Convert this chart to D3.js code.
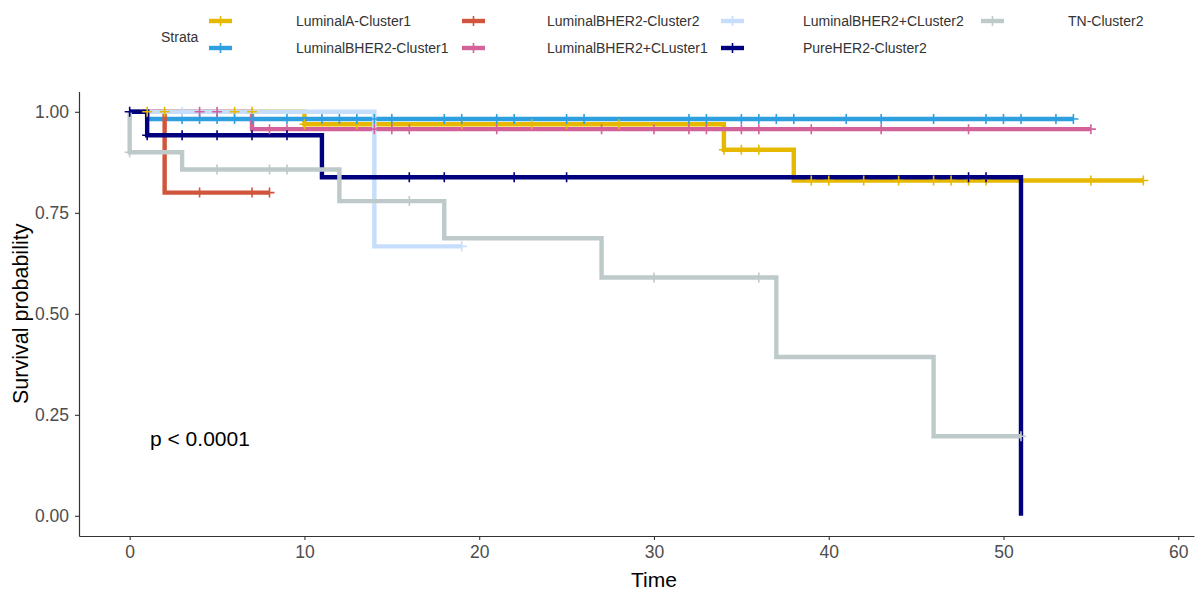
<!DOCTYPE html>
<html>
<head>
<meta charset="utf-8">
<script src="https://cdn.jsdelivr.net/npm/d3@7"></script>
<style>
  body { margin: 0; background: #fff; }
  svg { font-family: "Liberation Sans", Arial, sans-serif; }
</style>
</head>
<body>
<svg id="km" width="1199" height="592"></svg>
<script>
// strata in legend / drawing order
const strata = ['LuminalA-Cluster1', 'LuminalBHER2-Cluster1', 'LuminalBHER2-Cluster2',
  'LuminalBHER2+CLuster1', 'LuminalBHER2+CLuster2', 'PureHER2-Cluster2', 'TN-Cluster2'];
const colors = ['#E7B800', '#2E9FDF', '#D0553C', '#D3619A', '#C6DDFB', '#00007F', '#BECACA'];

// event times and survival after each event
const stepTimes = [
  [10, 34, 38],
  [1],
  [2],
  [7],
  [14],
  [1, 11, 51],
  [0, 3, 12, 18, 27, 37, 46]
];
const stepSurv = [
  [0.969, 0.906, 0.83],
  [0.982],
  [0.8],
  [0.957],
  [0.667],
  [0.942, 0.838, 0],
  [0.9, 0.857, 0.779, 0.687, 0.59, 0.393, 0.197]
];
const endTimes = [58, 54, 8, 55, 19, 51, 51];
const censorTimes = [
  [1, 2, 6, 7, 10, 13, 19, 23, 25, 28, 33, 34, 35, 36, 39, 40, 42, 44, 46, 47, 48, 49, 55, 58],
  [3, 4, 5, 6, 7, 9, 11, 12, 13, 14, 15, 18, 19, 21, 22, 25, 26, 32, 33, 35, 36, 37, 38, 41, 43, 46, 49, 50, 51, 53, 54],
  [4, 7, 8],
  [4, 5, 8, 9, 14, 15, 16, 21, 27, 30, 32, 33, 35, 36, 39, 43, 48, 55],
  [3, 19],
  [0, 1, 3, 5, 7, 9, 16, 18, 22, 25, 48, 49],
  [0, 5, 8, 9, 16, 30, 36, 51]
];

const xTicks = [0, 10, 20, 30, 40, 50, 60];
const yTicks = [0, 0.25, 0.5, 0.75, 1];
const pLabel = 'p < 0.0001';

let svg = d3.select('#km');

let panel = { left: 79, right: 1194, top: 91.6, bottom: 536 };

let x = d3.scaleLinear().domain([-2.9, 60.9]).range([panel.left, panel.right]);
let y = d3.scaleLinear().domain([-0.05, 1.05]).range([panel.bottom, panel.top]);

// survival value at time t (right-continuous)
function survAt(i, t) {
  let s = 1;
  stepTimes[i].forEach((st, k) => { if (st <= t) s = stepSurv[i][k]; });
  return s;
}

// build the step path for one stratum
function stepPoints(i) {
  let pts = [[0, 1]];
  let prev = 1;
  stepTimes[i].forEach((t, k) => {
    pts.push([t, prev]);
    pts.push([t, stepSurv[i][k]]);
    prev = stepSurv[i][k];
  });
  pts.push([endTimes[i], prev]);
  return pts;
}

let line = d3.line().x(d => x(d[0])).y(d => y(d[1]));

// curves
let curves = svg.append('g');
strata.forEach((name, i) => {
  curves.append('path')
    .attr('d', line(stepPoints(i)))
    .attr('fill', 'none')
    .attr('stroke', colors[i])
    .attr('stroke-width', 4.4)
    .attr('stroke-linejoin', 'miter');
});

// censor marks
let marks = svg.append('g');
strata.forEach((name, i) => {
  censorTimes[i].forEach(t => {
    let cx = x(t), cy = y(survAt(i, t));
    marks.append('path')
      .attr('d', `M${cx - 5},${cy}H${cx + 5}M${cx},${cy - 5}V${cy + 5}`)
      .attr('stroke', colors[i])
      .attr('stroke-width', 1.6)
      .attr('fill', 'none');
  });
});

// axes
let xAxis = svg.append('g')
  .attr('transform', `translate(0,${panel.bottom})`)
  .call(d3.axisBottom(x).tickValues(xTicks).tickSize(4).tickSizeOuter(0).tickPadding(6));
let yAxis = svg.append('g')
  .attr('transform', `translate(${panel.left},0)`)
  .call(d3.axisLeft(y).tickValues(yTicks).tickSize(4).tickSizeOuter(0).tickPadding(6)
    .tickFormat(d3.format('.2f')));

[xAxis, yAxis].forEach(a => {
  a.select('.domain').attr('stroke', '#333').attr('stroke-width', 1.2);
  a.selectAll('.tick line').attr('stroke', '#333').attr('stroke-width', 1.1);
  a.selectAll('.tick text')
    .attr('fill', '#4d4d4d')
    .style('font-size', '17.5px')
    .style('font-family', '"Liberation Sans", Arial, sans-serif');
});

// axis titles
svg.append('text')
  .attr('x', x(30))
  .attr('y', 587)
  .attr('text-anchor', 'middle')
  .style('font-size', '21px')
  .attr('fill', '#000')
  .text('Time');

svg.append('text')
  .attr('transform', `translate(28,${y(0.5)}) rotate(-90)`)
  .attr('text-anchor', 'middle')
  .style('font-size', '21.5px')
  .attr('fill', '#000')
  .text('Survival probability');

// p value
svg.append('text')
  .attr('x', 150)
  .attr('y', 446)
  .style('font-size', '21px')
  .attr('fill', '#000')
  .text(pLabel);

// legend
let legend = svg.append('g');
legend.append('text')
  .attr('x', 161)
  .attr('y', 42)
  .style('font-size', '14px')
  .attr('fill', '#333')
  .text('Strata');

let keyX = [209, 462, 721, 981];
let labelX = [296, 547, 803, 1068];
let rowY = [21, 48];
let legendOrder = [0, 2, 4, 6, 1, 3, 5]; // row-wise fill as in the picture
legendOrder.forEach((si, pos) => {
  let col = pos < 4 ? pos : pos - 4;
  let row = pos < 4 ? 0 : 1;
  let kx = keyX[col], ky = rowY[row];
  legend.append('line')
    .attr('x1', kx).attr('x2', kx + 23)
    .attr('y1', ky).attr('y2', ky)
    .attr('stroke', colors[si])
    .attr('stroke-width', 4.4);
  legend.append('line')
    .attr('x1', kx + 11.5).attr('x2', kx + 11.5)
    .attr('y1', ky - 5).attr('y2', ky + 5)
    .attr('stroke', colors[si])
    .attr('stroke-width', 1.6);
  legend.append('text')
    .attr('x', labelX[col])
    .attr('y', ky + 5)
    .style('font-size', '14px')
    .attr('fill', '#333')
    .text(strata[si]);
});
</script>
</body>
</html>
